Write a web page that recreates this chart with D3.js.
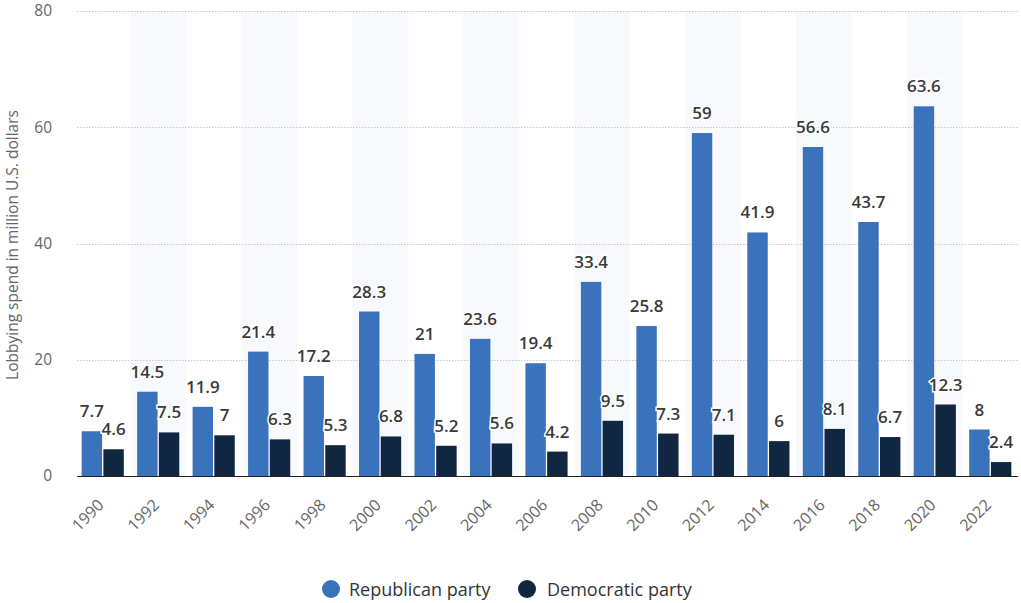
<!DOCTYPE html>
<html><head><meta charset="utf-8">
<script src="https://cdn.jsdelivr.net/npm/d3@7"></script>
<style>body{margin:0;background:#fff;}svg{display:block;}</style>
</head><body>
<svg id="c" width="1021" height="603"></svg>
<script>
const years = ["1990","1992","1994","1996","1998","2000","2002","2004","2006","2008","2010","2012","2014","2016","2018","2020","2022"];
const republican = [7.7,14.5,11.9,21.4,17.2,28.3,21,23.6,19.4,33.4,25.8,59,41.9,56.6,43.7,63.6,8];
const democratic = [4.6,7.5,7,6.3,5.3,6.8,5.2,5.6,4.2,9.5,7.3,7.1,6,8.1,6.7,12.3,2.4];
const yTicks = [0,20,40,60,80];
const seriesNames = ["Republican party","Democratic party"];
const colors = ["#3a72bb","#112640"];

const svg = d3.select("#c");
const font = "'Open Sans', sans-serif";
const x = d3.scaleBand().domain(years).range([75,1018]).padding(0);
const y = d3.scaleLinear().domain([0,80]).range([476,11]);
const bw = x.bandwidth();
const xs = d3.scaleBand().domain([0,1]).range([bw*0.12,bw*0.88]).paddingInner(0.06);

// shaded bands
svg.append("g").selectAll("rect").data(years.filter((d,i)=>i%2===1)).join("rect")
  .attr("x",d=>x(d)).attr("width",bw).attr("y",y(80)).attr("height",y(0)-y(80))
  .attr("fill","#f7f9fd");

// grid
const grid = svg.append("g");
grid.selectAll("line").data(yTicks.filter(t=>t>0)).join("line")
  .attr("x1",77).attr("x2",1018).attr("y1",d=>Math.round(y(d))+0.5).attr("y2",d=>Math.round(y(d))+0.5)
  .attr("stroke","#c8c8c8").attr("stroke-dasharray","1.5,1.5");

// y axis labels
const yAxis = d3.axisLeft(y).tickValues(yTicks).tickSize(0).tickPadding(0);
const ga = svg.append("g").attr("transform","translate(52,0)").call(yAxis);
ga.select(".domain").remove();
ga.selectAll("text").attr("font-family",font).attr("font-size",15.5).attr("fill","#666");

// y title
svg.append("text").attr("transform","translate(18,245) rotate(-90)").attr("text-anchor","middle")
  .attr("font-family",font).attr("font-size",15.5).attr("fill","#666")
  .text("Lobbying spend in million U.S. dollars");

const data = years.map((yr,i)=>({yr, vals:[republican[i],democratic[i]]}));
const groups = svg.append("g").selectAll("g").data(data).join("g")
  .attr("transform",d=>`translate(${x(d.yr)},0)`);
groups.selectAll("rect").data(d=>d.vals.map((v,k)=>({v,k}))).join("rect")
  .attr("x",d=>xs(d.k)).attr("width",xs.bandwidth())
  .attr("y",d=>y(d.v)).attr("height",d=>y(0)-y(d.v))
  .attr("fill",d=>colors[d.k]);
groups.selectAll("text").data(d=>d.vals.map((v,k)=>({v,k}))).join("text")
  .attr("x",d=>xs(d.k)+xs.bandwidth()/2).attr("y",d=>y(d.v)-14)
  .attr("text-anchor","middle").attr("font-family",font).attr("font-size",17).attr("font-weight",600)
  .attr("fill","#3a3a3a").attr("stroke","#fff").attr("stroke-width",3).attr("paint-order","stroke")
  .text(d=>d.v);

// baseline
svg.append("line").attr("x1",77).attr("x2",1018).attr("y1",476.5).attr("y2",476.5)
  .attr("stroke","#222").attr("stroke-width",1.2);

// x labels
svg.append("g").selectAll("text").data(years).join("text")
  .attr("transform",d=>`translate(${x(d)+bw/2+2},506) rotate(-45)`)
  .attr("text-anchor","end").attr("font-family",font).attr("font-size",16).attr("fill","#666")
  .text(d=>d);

// legend
const leg = [{c:331,t:349},{c:527,t:547}];
const lg = svg.append("g");
seriesNames.forEach((n,i)=>{
  lg.append("circle").attr("cx",leg[i].c).attr("cy",589).attr("r",9).attr("fill",colors[i]);
  lg.append("text").attr("x",leg[i].t).attr("y",595.5).attr("font-family",font).attr("font-size",18)
    .attr("fill","#333").text(n);
});
</script>
</body></html>
